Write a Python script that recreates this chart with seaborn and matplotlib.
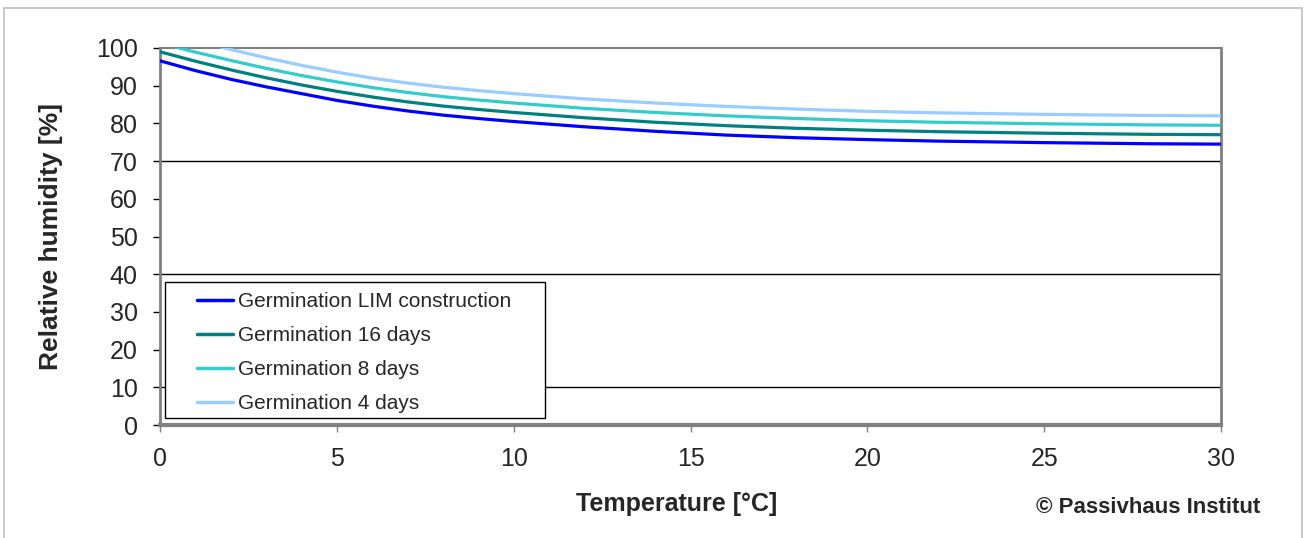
import matplotlib
matplotlib.use("Agg")
import matplotlib.pyplot as plt
import matplotlib.patches as patches
import pandas as pd
import seaborn as sns

temps = [0, 1, 2, 3, 4, 5, 6, 7, 8, 9, 10, 12, 14, 16, 18, 20, 22, 25, 28, 30]
rh_lim = [96.6, 94.0, 91.7, 89.7, 87.9, 86.1, 84.6, 83.3, 82.2, 81.3, 80.5,
          79.1, 77.9, 76.9, 76.2, 75.7, 75.3, 74.9, 74.6, 74.5]
rh_16d = [99.0, 96.5, 94.2, 92.1, 90.2, 88.5, 87.0, 85.7, 84.6, 83.7, 82.9,
          81.5, 80.3, 79.4, 78.7, 78.2, 77.8, 77.4, 77.1, 77.0]
rh_8d = [101.3, 98.9, 96.7, 94.6, 92.7, 91.0, 89.5, 88.2, 87.1, 86.2, 85.4,
         84.0, 82.9, 82.0, 81.3, 80.7, 80.3, 79.9, 79.6, 79.5]
rh_4d = [104.6, 102.0, 99.6, 97.4, 95.4, 93.6, 92.0, 90.7, 89.6, 88.7, 87.9,
         86.5, 85.4, 84.5, 83.8, 83.2, 82.8, 82.4, 82.1, 82.0]

series = ["Germination LIM construction", "Germination 16 days",
          "Germination 8 days", "Germination 4 days"]
colors = ["#0000FF", "#008080", "#33CCCC", "#99CCFF"]
y_ticks = list(range(0, 101, 10))
x_ticks = [0, 5, 10, 15, 20, 25, 30]
marked_rh = [10, 40, 70]

df = pd.concat([
    pd.DataFrame({"T": temps, "RH": vals, "curve": name})
    for name, vals in zip(series, [rh_lim, rh_16d, rh_8d, rh_4d])
])

sns.set_style("white")
plt.rcParams["font.family"] = ["Liberation Sans", "DejaVu Sans"]

fig = plt.figure(figsize=(13.06, 5.38), dpi=100)
ax = fig.add_axes([0.1225, 0.21, 0.8125, 0.7008])

# outer light frame
fig.patches.append(patches.Rectangle((0.003, -0.01), 0.994, 0.995, transform=fig.transFigure,
                                     fill=False, edgecolor="#BFBFBF", linewidth=1.2))

for v in marked_rh:
    ax.axhline(v, color="black", linewidth=1.0, zorder=1)

sns.lineplot(data=df, x="T", y="RH", hue="curve", palette=colors,
             linewidth=2.3, ax=ax, legend=True, zorder=3)

ax.set_xlim(0, 30)
ax.set_ylim(0, 100)
ax.set_xticks(x_ticks)
ax.set_yticks(y_ticks)
ax.tick_params(axis="both", labelsize=18)
ax.tick_params(axis="y", direction="out", length=5, width=1, color="black", pad=11, left=True)
ax.tick_params(axis="x", direction="out", length=5, width=1, color="#808080", pad=11, bottom=True)

for side, lw in [("left", 2), ("bottom", 3), ("top", 1.5), ("right", 2)]:
    ax.spines[side].set_visible(True)
    ax.spines[side].set_color("#808080")
    ax.spines[side].set_linewidth(lw)

ax.set_xlabel("Temperature [°C]", fontsize=18, fontweight="bold")
ax.set_ylabel("Relative humidity [%]", fontsize=19, fontweight="bold")
ax.xaxis.set_label_coords(0.487, -0.178)
ax.yaxis.set_label_coords(-0.091, 0.5)

# legend box drawn by hand, legend itself without frame
ax.add_patch(patches.Rectangle((0.0047, 0.0186), 0.358, 0.36, transform=ax.transAxes,
                               facecolor="white", edgecolor="black", linewidth=1, zorder=4))
handles, labels = ax.get_legend_handles_labels()
leg = ax.legend(handles, labels, loc="upper left", bbox_to_anchor=(0.0349, 0.353),
                frameon=False, fontsize=15, handlelength=1.75, handletextpad=0.2,
                labelspacing=0.72, borderpad=0, borderaxespad=0)
leg.set_zorder(5)
for line in leg.get_lines():
    line.set_linewidth(2.5)

fig.text(0.965, 0.0576, "© Passivhaus Institut", ha="right", va="center",
         fontsize=16, fontweight="bold")

plt.savefig("out.png", dpi=100)
